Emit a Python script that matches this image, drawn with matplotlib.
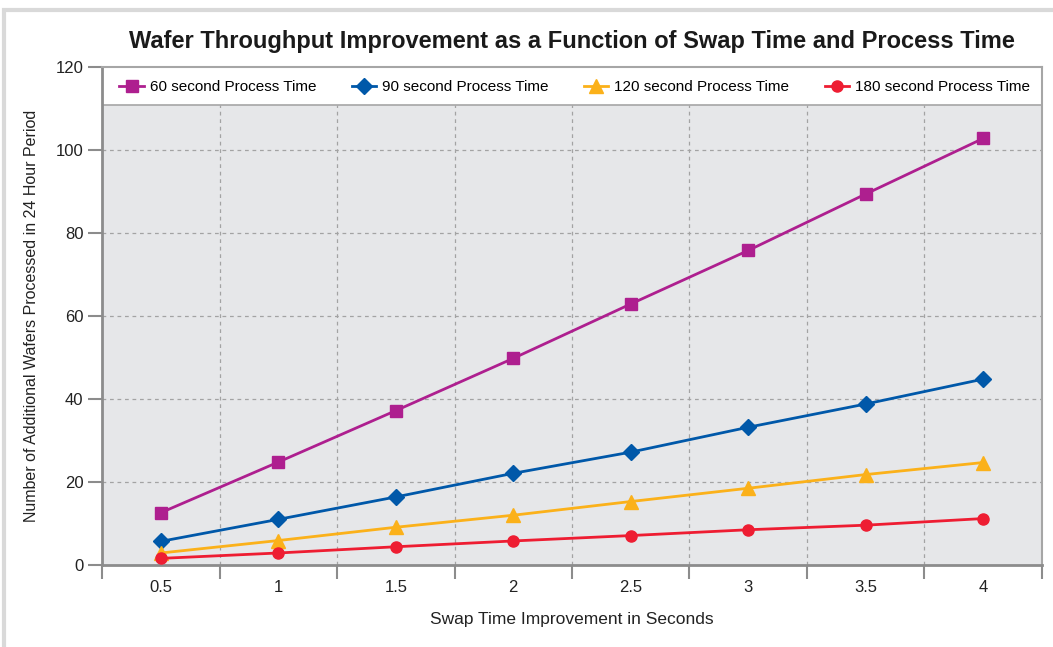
import matplotlib.pyplot as plt
import matplotlib.patches as mpatches
import numpy as np

plt.rcParams['font.family'] = ['Liberation Sans', 'DejaVu Sans']

# data
swap_times = ['0.5', '1', '1.5', '2', '2.5', '3', '3.5', '4']
wafers_60 = [12.6, 24.8, 37.2, 49.8, 62.9, 75.8, 89.4, 102.8]
wafers_90 = [5.7, 11.0, 16.4, 22.1, 27.2, 33.2, 38.8, 44.8]
wafers_120 = [2.9, 5.9, 9.1, 12.0, 15.3, 18.5, 21.8, 24.7]
wafers_180 = [1.6, 2.9, 4.4, 5.8, 7.1, 8.5, 9.6, 11.2]

series = [
    ('60 second Process Time', wafers_60, '#ae1f8f', 's', 8),
    ('90 second Process Time', wafers_90, '#0058a9', 'D', 8),
    ('120 second Process Time', wafers_120, '#fbb11a', '^', 10),
    ('180 second Process Time', wafers_180, '#ee1d32', 'o', 8),
]

fig = plt.figure(figsize=(10.53, 6.47), dpi=100)
# light outer frame like the source page
fig.patches.append(mpatches.Rectangle((0.004, -0.01), 1.2, 0.995, transform=fig.transFigure,
                                      fill=False, edgecolor='#d9d9d9', linewidth=3))
ax = fig.add_axes([0.0969, 0.1267, 0.8926, 0.7697])

x = np.arange(len(swap_times))
band_top = 110.8

ax.set_facecolor('white')
ax.axhspan(0, band_top, color='#e6e7e9', zorder=0)
ax.axhline(band_top, color='#a6a6a6', lw=1.2, zorder=1)

for yv in range(20, 101, 20):
    ax.plot([-0.5, 7.5], [yv, yv], ls=(0, (3, 3)), color='#a3a3a3', lw=0.9, zorder=1)
for xb in np.arange(0.5, 7.0, 1.0):
    ax.plot([xb, xb], [0, band_top], ls=(0, (3, 3)), color='#a3a3a3', lw=0.9, zorder=1)

for label, vals, col, mk, ms in series:
    ax.plot(x, vals, color=col, marker=mk, markersize=ms, lw=2, label=label, zorder=3, clip_on=False)

ax.set_xlim(-0.5, 7.5)
ax.set_ylim(0, 120)
ax.set_yticks(range(0, 121, 20))
ax.set_xticks(x)
ax.set_xticklabels(swap_times)
ax.tick_params(axis='x', length=0, pad=11, labelsize=12, colors='#222222')
ax.set_xticks(np.arange(-0.5, 7.6, 1.0), minor=True)
ax.tick_params(axis='x', which='minor', length=10, width=1.5, color='#8c8c8c')
ax.tick_params(axis='y', length=10, width=1.5, color='#8c8c8c', labelsize=12, labelcolor='#222222')

for side in ['left', 'bottom']:
    ax.spines[side].set_color('#8c8c8c')
    ax.spines[side].set_linewidth(2)
for side in ['top', 'right']:
    ax.spines[side].set_color('#a6a6a6')
    ax.spines[side].set_linewidth(1.5)

ax.set_xlabel('Swap Time Improvement in Seconds', fontsize=12.5, labelpad=12, color='#222222')
ax.set_ylabel('Number of Additional Wafers Processed in 24 Hour Period', fontsize=11.5, labelpad=12,
              color='#222222')
ax.set_title('Wafer Throughput Improvement as a Function of Swap Time and Process Time',
             fontsize=17, fontweight='bold', pad=14, color='#1a1a1a', x=0.5)

ax.legend(loc='upper center', bbox_to_anchor=(0.503, 1.0), ncol=4, frameon=False,
          fontsize=11, columnspacing=2.3, handlelength=1.6, handletextpad=0.4,
          borderaxespad=0.45)

plt.savefig('out.png', dpi=100)
